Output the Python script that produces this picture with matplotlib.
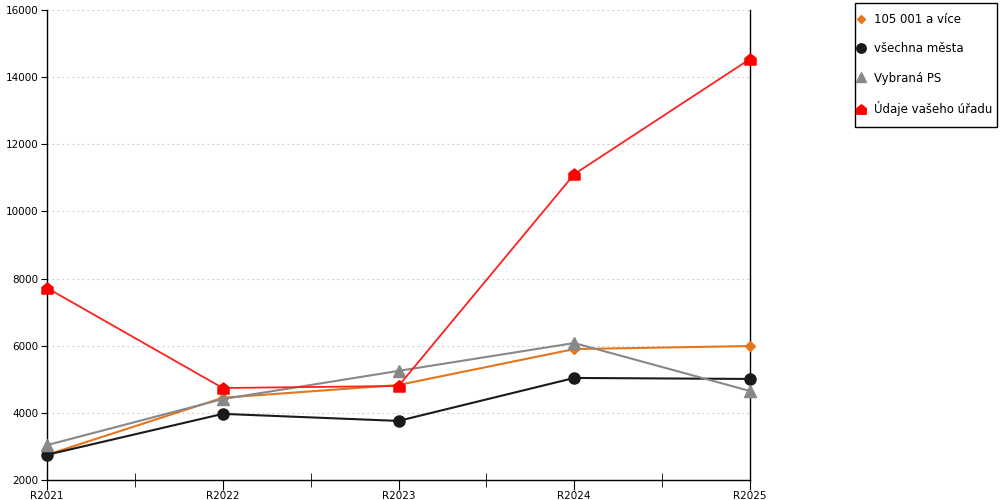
import numpy as np
import matplotlib.pyplot as plt
from matplotlib.path import Path
from matplotlib.patches import Rectangle

years = ['R2021', 'R2022', 'R2023', 'R2024', 'R2025']
big_cities = [2750, 4450, 4830, 5900, 5990]      # 105 001 a více
all_cities = [2750, 3970, 3760, 5040, 5010]      # všechna města
selected_ps = [3040, 4410, 5250, 6080, 4650]     # Vybraná PS
your_office = [7720, 4740, 4800, 11110, 14540]   # Údaje vašeho úřadu

labels = ['105 001 a více', 'všechna města', 'Vybraná PS', 'Údaje vašeho úřadu']

# house shaped marker for the office series
house = Path([(-1, -1), (1, -1), (1, 0.2), (0, 1), (-1, 0.2), (-1, -1)],
             [Path.MOVETO, Path.LINETO, Path.LINETO, Path.LINETO, Path.LINETO, Path.CLOSEPOLY])

plt.rcParams['font.family'] = ['DejaVu Sans']
fig = plt.figure(figsize=(10, 5), dpi=100)
ax = fig.add_axes([0.047, 0.04, 0.703, 0.94])

x = np.arange(len(years))
ax.plot(x, big_cities, color='#E8751A', lw=1.5, marker='D', ms=5, label=labels[0],
        zorder=3, clip_on=False)
ax.plot(x, all_cities, color='#1a1a1a', lw=1.5, marker='o', ms=8, label=labels[1],
        zorder=3, clip_on=False)
ax.plot(x, selected_ps, color='#888888', lw=1.5, marker='^', ms=8, label=labels[2],
        zorder=3, clip_on=False)
ax.plot(x, your_office, color='#FF2020', lw=1.3, marker=house, ms=8, mfc='#FF0000',
        mec='#FF0000', label=labels[3], zorder=4, clip_on=False)

ax.set_xlim(0, len(years) - 1)
ax.set_ylim(2000, 16000)
ax.set_yticks(np.arange(2000, 16001, 2000))
ax.set_xticks(x)
ax.set_xticklabels(years)
ax.set_xticks(x[:-1] + 0.5, minor=True)
ax.tick_params(axis='x', which='major', direction='out', length=7, labelsize=7.5, pad=1)
ax.tick_params(axis='x', which='minor', direction='inout', length=10)
ax.tick_params(axis='y', direction='out', length=4, labelsize=7.5, pad=2)
ax.grid(axis='y', color='#c8c8c8', ls=(0, (1.5, 3)), lw=0.8)
ax.spines['top'].set_visible(False)
for s in ['left', 'right', 'bottom']:
    ax.spines[s].set_color('black')
    ax.spines[s].set_linewidth(1)

# legend box drawn separately so the padding matches
fig.patches.append(Rectangle((0.855, 1 - 127 / 500), 0.142, 124 / 500, transform=fig.transFigure,
                             fill=False, ec='black', lw=1))
leg = fig.legend(loc='upper left', bbox_to_anchor=(0.857, 1 - 13 / 500), frameon=False,
                 fontsize=8.5, labelspacing=1.38, handlelength=0.75, handletextpad=0.7,
                 borderpad=0, borderaxespad=0, markerscale=0.85)
for h in leg.legend_handles:
    h.set_linestyle('none')

fig.savefig('out.png')
